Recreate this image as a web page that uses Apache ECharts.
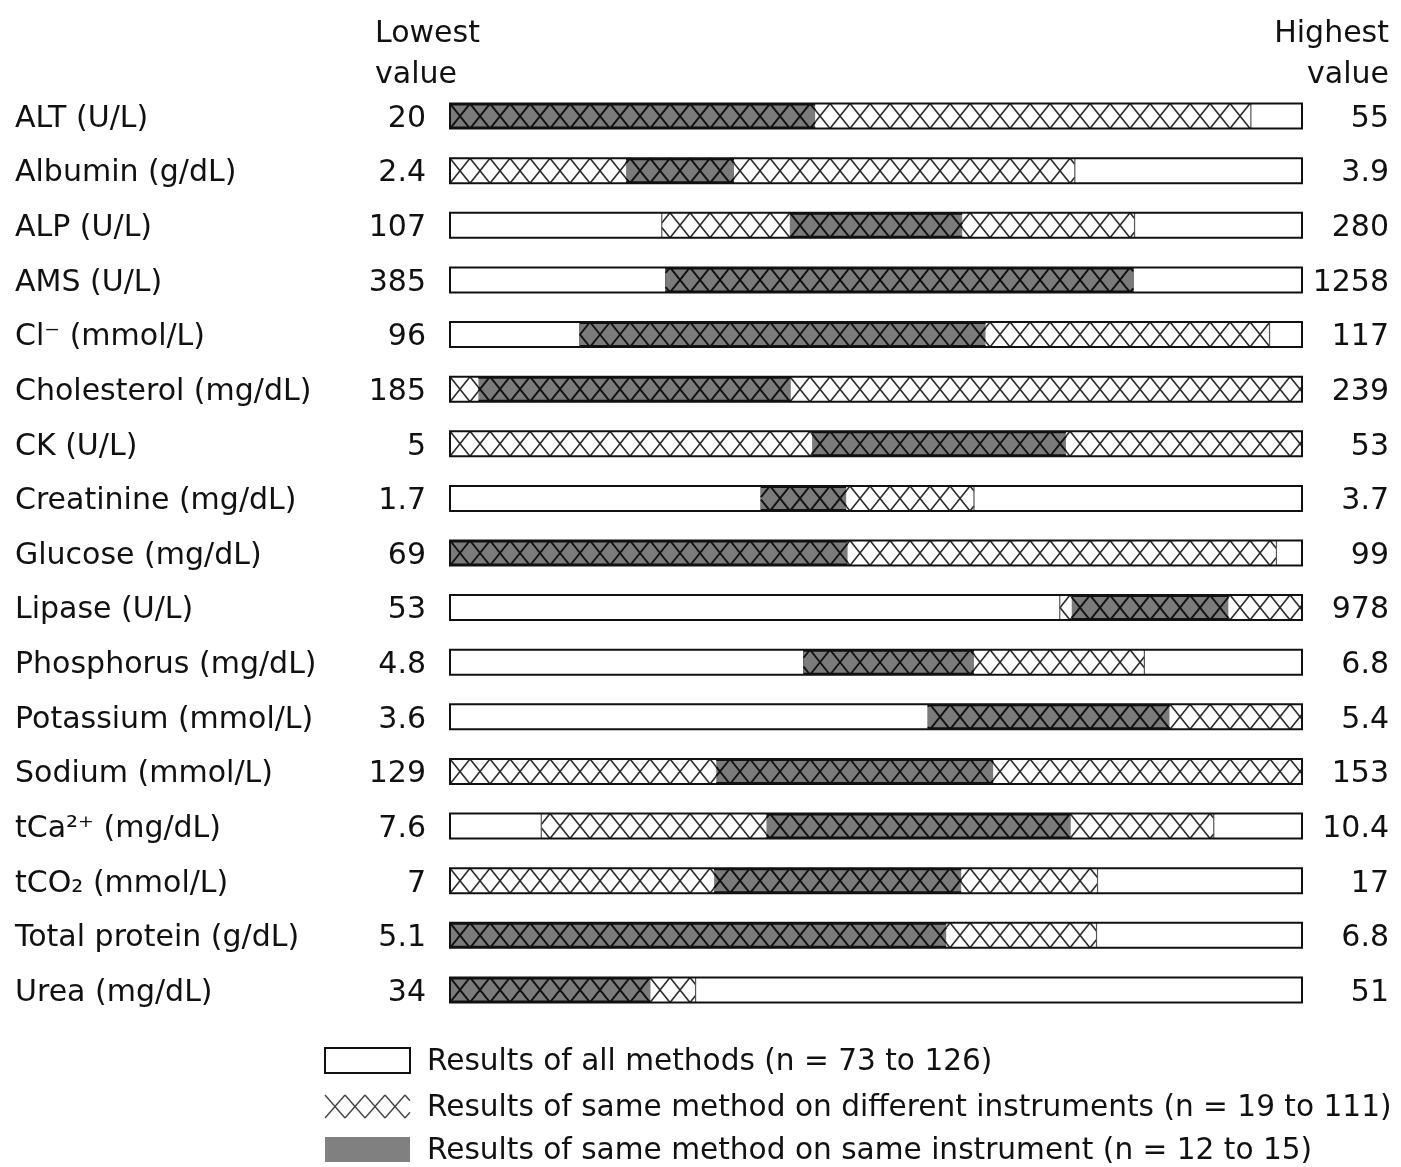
<!DOCTYPE html>
<html><head><meta charset="utf-8">
<script src="https://cdn.jsdelivr.net/npm/echarts@6/dist/echarts.min.js"></script>
<style>html,body{margin:0;padding:0;background:#fff}#c{width:1401px;height:1167px}</style>
</head><body><div id="c"></div>
<script>
const categories = ['ALT (U/L)', 'Albumin (g/dL)', 'ALP (U/L)', 'AMS (U/L)', 'Cl⁻ (mmol/L)', 'Cholesterol (mg/dL)', 'CK (U/L)', 'Creatinine (mg/dL)', 'Glucose (mg/dL)', 'Lipase (U/L)', 'Phosphorus (mg/dL)', 'Potassium (mmol/L)', 'Sodium (mmol/L)', 'tCa²⁺ (mg/dL)', 'tCO₂ (mmol/L)', 'Total protein (g/dL)', 'Urea (mg/dL)'];
// Results of all methods (range ends)
const lowest  = [20, 2.4, 107, 385, 96, 185, 5, 1.7, 69, 53, 4.8, 3.6, 129, 7.6, 7, 5.1, 34];
const highest = [55, 3.9, 280, 1258, 117, 239, 53, 3.7, 99, 978, 6.8, 5.4, 153, 10.4, 17, 6.8, 51];
// Results of same method on different instruments
const diffInstrLow  = [20, 2.4, 150, 606, 99.2, 185, 5, 2.43, 69, 715, 5.63, 4.61, 129, 7.9, 7, 5.1, 34];
const diffInstrHigh = [52.9, 3.5, 246, 1085, 116.2, 239, 53, 2.93, 98.1, 978, 6.43, 5.4, 153, 10.11, 14.6, 6.39, 38.9];
// Results of same method on same instrument
const sameInstrLow  = [20, 2.71, 176, 606, 99.2, 186.8, 25.4, 2.43, 69, 728, 5.63, 4.61, 136.5, 8.64, 10.1, 5.1, 34];
const sameInstrHigh = [35, 2.9, 211, 1085, 109.2, 206.6, 39.7, 2.63, 83, 898, 6.03, 5.12, 144.3, 9.64, 13.0, 6.09, 38];
const legendNames = ['Results of all methods (n = 73 to 126)', 'Results of same method on different instruments (n = 19 to 111)', 'Results of same method on same instrument (n = 12 to 15)'];

const FONT = 'DejaVu Sans';
const FS = 30;
const TXT = '#111';
const BAR_H = 25;
const PERIOD = 20;

function pct(v, i) { return (v - lowest[i]) / (highest[i] - lowest[i]) * 100; }
const allData = categories.map((c, i) => [i, 0, 100]);
const diffData = categories.map((c, i) => [i, pct(diffInstrLow[i], i), pct(diffInstrHigh[i], i)]);
const sameData = categories.map((c, i) => [i, pct(sameInstrLow[i], i), pct(sameInstrHigh[i], i)]);

function hatch(x0, xs, xe, top, h, P, style) {
  const lines = [];
  let a = x0 + Math.floor((xs - x0) / P) * P - P;
  for (; a < xe; a += P) {
    let t0 = Math.max(0, (xs - a) / P), t1 = Math.min(1, (xe - a) / P);
    if (t1 > t0) lines.push({ type: 'line', shape: { x1: a + P * t0, y1: top + h * t0, x2: a + P * t1, y2: top + h * t1 }, style: style });
    t0 = Math.max(0, (a + P - xe) / P); t1 = Math.min(1, (a + P - xs) / P);
    if (t1 > t0) lines.push({ type: 'line', shape: { x1: a + P - P * t0, y1: top + h * t0, x2: a + P - P * t1, y2: top + h * t1 }, style: style });
  }
  return lines;
}

function makeRender(kind) {
  return function (params, api) {
    const yi = api.value(0);
    const p0 = api.coord([api.value(1), yi]);
    const p1 = api.coord([api.value(2), yi]);
    const origin = api.coord([0, yi])[0];
    const end = api.coord([100, yi])[0];
    const top = p0[1] - BAR_H / 2;
    const xs = p0[0], xe = p1[0];
    const children = [];
    if (kind === 'all') {
      children.push({ type: 'rect', shape: { x: xs, y: top, width: xe - xs, height: BAR_H }, style: { fill: 'none', stroke: '#111', lineWidth: 2 } });
    } else if (kind === 'diff') {
      children.push({ type: 'rect', shape: { x: xs, y: top, width: xe - xs, height: BAR_H }, style: { fill: '#fff' } });
      children.push.apply(children, hatch(origin, xs, xe, top, BAR_H, PERIOD, { stroke: '#2a2a2a', lineWidth: 1.6 }));
      if (xs > origin + 1) children.push({ type: 'line', shape: { x1: xs, y1: top, x2: xs, y2: top + BAR_H }, style: { stroke: '#555', lineWidth: 1.2 } });
      if (xe < end - 1) children.push({ type: 'line', shape: { x1: xe, y1: top, x2: xe, y2: top + BAR_H }, style: { stroke: '#555', lineWidth: 1.2 } });
    } else {
      children.push({ type: 'rect', shape: { x: xs, y: top, width: xe - xs, height: BAR_H }, style: { fill: '#7b7b7b' } });
      children.push.apply(children, hatch(origin, xs, xe, top, BAR_H, PERIOD, { stroke: '#111', lineWidth: 1.9 }));
      children.push({ type: 'line', shape: { x1: xs, y1: top + 1, x2: xe, y2: top + 1 }, style: { stroke: '#111', lineWidth: 2 } });
      children.push({ type: 'line', shape: { x1: xs, y1: top + BAR_H - 1, x2: xe, y2: top + BAR_H - 1 }, style: { stroke: '#111', lineWidth: 2 } });
    }
    return { type: 'group', children: children };
  };
}

const txtStyle = { fontFamily: FONT, fontSize: FS, fill: TXT };
const legendGraphics = [];
legendGraphics.push({ type: 'rect', shape: { x: 325, y: 1048, width: 85, height: 25 }, style: { fill: '#fff', stroke: '#111', lineWidth: 2 } });
hatch(325, 325, 410, 1095, 23, PERIOD, { stroke: '#444', lineWidth: 1.4 }).forEach(l => legendGraphics.push(l));
legendGraphics.push({ type: 'rect', shape: { x: 325, y: 1137, width: 85, height: 25 }, style: { fill: '#808080' } });
[1062, 1108, 1151].forEach((y, k) => legendGraphics.push({ type: 'text', x: 427, y: y, style: Object.assign({}, txtStyle, { text: legendNames[k], fontSize: 29.6, textAlign: 'left', textVerticalAlign: 'middle' }) }));

const labelCommon = {
  fontFamily: FONT, fontSize: FS, color: TXT,
  formatter: function (v) { return '{a|' + v + '}'; },
  rich: { a: { fontFamily: FONT, fontSize: FS, color: TXT, padding: [6, 0, 0, 0] } }
};
const chart = echarts.init(document.getElementById('c'), null, { renderer: 'canvas' });
chart.setOption({
  animation: false,
  backgroundColor: '#fff',
  grid: { left: 450, right: 99, top: 88.75, bottom: 149.75 },
  xAxis: { type: 'value', min: 0, max: 100, show: false },
  yAxis: [
    { type: 'category', data: categories, inverse: true, position: 'left', axisLine: { show: false, onZero: false }, axisTick: { show: false }, splitLine: { show: false },
      axisLabel: Object.assign({ align: 'left', margin: 435 }, labelCommon) },
    { type: 'category', data: lowest.map(String), inverse: true, position: 'left', axisLine: { show: false, onZero: false }, axisTick: { show: false }, splitLine: { show: false },
      axisLabel: Object.assign({ align: 'right', margin: 24 }, labelCommon) },
    { type: 'category', data: highest.map(String), inverse: true, position: 'right', axisLine: { show: false, onZero: false }, axisTick: { show: false }, splitLine: { show: false },
      axisLabel: Object.assign({ align: 'right', margin: 87 }, labelCommon) }
  ],
  graphic: [
    { type: 'text', x: 375, y: 34, style: Object.assign({ text: 'Lowest', textAlign: 'left', textVerticalAlign: 'middle' }, txtStyle) },
    { type: 'text', x: 375, y: 75, style: Object.assign({ text: 'value', textAlign: 'left', textVerticalAlign: 'middle' }, txtStyle) },
    { type: 'text', x: 1389, y: 34, style: Object.assign({ text: 'Highest', textAlign: 'right', textVerticalAlign: 'middle' }, txtStyle) },
    { type: 'text', x: 1389, y: 75, style: Object.assign({ text: 'value', textAlign: 'right', textVerticalAlign: 'middle' }, txtStyle) },
    { type: 'group', children: legendGraphics }
  ],
  series: [
    { type: 'custom', name: legendNames[1], z: 2, renderItem: makeRender('diff'), encode: { x: [1, 2], y: 0 }, data: diffData, silent: true },
    { type: 'custom', name: legendNames[2], z: 3, renderItem: makeRender('same'), encode: { x: [1, 2], y: 0 }, data: sameData, silent: true },
    { type: 'custom', name: legendNames[0], z: 4, renderItem: makeRender('all'), encode: { x: [1, 2], y: 0 }, data: allData, silent: true }
  ]
});
</script></body></html>
